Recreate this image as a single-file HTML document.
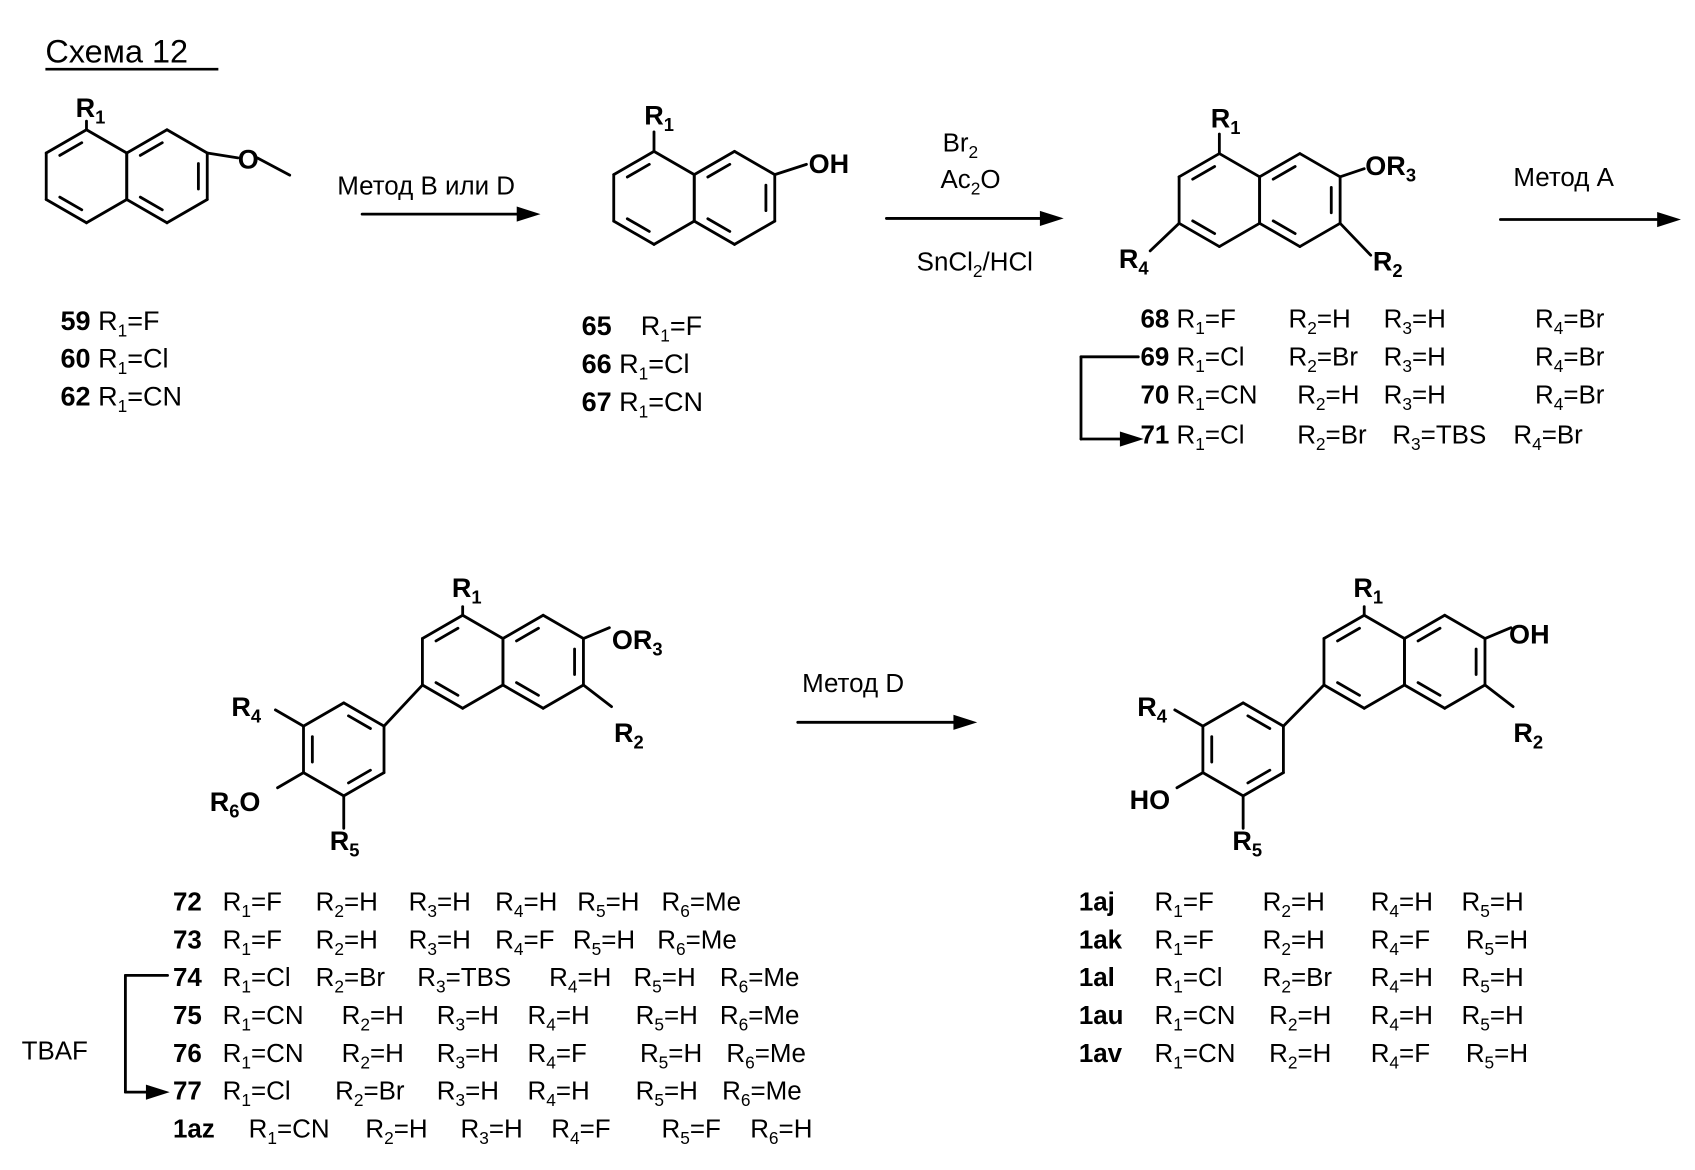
<!DOCTYPE html>
<html><head><meta charset="utf-8"><style>
html,body{margin:0;padding:0;background:#fff;}
svg{display:block;}
text{font-family:"Liberation Sans",Arial,sans-serif;fill:#000;}
.b{font-weight:bold;font-size:25px;}
.n{font-size:24px;}
</style></head><body>
<div style="position:relative;width:1695px;height:1170px">
<svg id="s" style="position:absolute;left:0;top:0" width="1695" height="1170" viewBox="0 0 1568 1082" preserveAspectRatio="none" xmlns="http://www.w3.org/2000/svg">
<g id="g" stroke="#000" stroke-width="2.6" fill="none" stroke-linecap="round"></g>
<text x="42" y="58" class="n" style="font-size:30px">Схема 12</text>
<line x1="42" y1="64" x2="202" y2="64" stroke="#000" stroke-width="2.5"/>

<text x="70" y="108" class="b">R<tspan font-size="17" dy="6">1</tspan></text>
<text x="220" y="156" class="b">O</text>
<text x="596" y="115" class="b">R<tspan font-size="17" dy="6">1</tspan></text>
<text x="748" y="160" class="b">OH</text>
<text x="1120" y="118" class="b">R<tspan font-size="17" dy="6">1</tspan></text>
<text x="1263" y="162" class="b">OR<tspan font-size="17" dy="6">3</tspan></text>
<text x="1035" y="248" class="b">R<tspan font-size="17" dy="6">4</tspan></text>
<text x="1270" y="250" class="b">R<tspan font-size="17" dy="6">2</tspan></text>

<text x="418" y="552" class="b">R<tspan font-size="17" dy="6">1</tspan></text>
<text x="566" y="600" class="b">OR<tspan font-size="17" dy="6">3</tspan></text>
<text x="568" y="686" class="b">R<tspan font-size="17" dy="6">2</tspan></text>
<text x="214" y="662" class="b">R<tspan font-size="17" dy="6">4</tspan></text>
<text x="194" y="750" class="b">R<tspan font-size="17" dy="6">6</tspan><tspan dy="-6">O</tspan></text>
<text x="305" y="786" class="b">R<tspan font-size="17" dy="6">5</tspan></text>

<text x="1252" y="552" class="b">R<tspan font-size="17" dy="6">1</tspan></text>
<text x="1396" y="595" class="b">OH</text>
<text x="1400" y="686" class="b">R<tspan font-size="17" dy="6">2</tspan></text>
<text x="1052" y="662" class="b">R<tspan font-size="17" dy="6">4</tspan></text>
<text x="1045" y="748" class="b">HO</text>
<text x="1140" y="786" class="b">R<tspan font-size="17" dy="6">5</tspan></text>

<text x="312" y="180" class="n">Метод B или D</text>
<text x="872" y="140" class="n">Br<tspan font-size="16" dy="6">2</tspan></text>
<text x="870" y="174" class="n">Ac<tspan font-size="16" dy="6">2</tspan><tspan dy="-6">O</tspan></text>
<text x="848" y="250" class="n">SnCl<tspan font-size="16" dy="6">2</tspan><tspan dy="-6">/HCl</tspan></text>
<text x="1400" y="172" class="n">Метод A</text>
<text x="742" y="640" class="n">Метод D</text>
<text x="20" y="980" class="n">TBAF</text>

<text x="56" y="305" class="b">59 <tspan font-weight="normal">R<tspan font-size="16" dy="6">1</tspan><tspan dy="-6">=F</tspan></tspan></text>
<text x="56" y="340" class="b">60 <tspan font-weight="normal">R<tspan font-size="16" dy="6">1</tspan><tspan dy="-6">=Cl</tspan></tspan></text>
<text x="56" y="375" class="b">62 <tspan font-weight="normal">R<tspan font-size="16" dy="6">1</tspan><tspan dy="-6">=CN</tspan></tspan></text>
<text x="538" y="310" class="b">65 <tspan font-weight="normal" dx="20">R<tspan font-size="16" dy="6">1</tspan><tspan dy="-6">=F</tspan></tspan></text>
<text x="538" y="345" class="b">66 <tspan font-weight="normal">R<tspan font-size="16" dy="6">1</tspan><tspan dy="-6">=Cl</tspan></tspan></text>
<text x="538" y="380" class="b">67 <tspan font-weight="normal">R<tspan font-size="16" dy="6">1</tspan><tspan dy="-6">=CN</tspan></tspan></text>
<g font-size="24">
<text x="1055" y="303"><tspan font-weight="bold">68</tspan> R<tspan font-size="16" dy="6">1</tspan><tspan dy="-6">=F</tspan><tspan x="1192">R</tspan><tspan font-size="16" dy="6">2</tspan><tspan dy="-6">=H</tspan><tspan x="1280">R</tspan><tspan font-size="16" dy="6">3</tspan><tspan dy="-6">=H</tspan><tspan x="1420">R</tspan><tspan font-size="16" dy="6">4</tspan><tspan dy="-6">=Br</tspan></text>
<text x="1055" y="338"><tspan font-weight="bold">69</tspan> R<tspan font-size="16" dy="6">1</tspan><tspan dy="-6">=Cl</tspan><tspan x="1192">R</tspan><tspan font-size="16" dy="6">2</tspan><tspan dy="-6">=Br</tspan><tspan x="1280">R</tspan><tspan font-size="16" dy="6">3</tspan><tspan dy="-6">=H</tspan><tspan x="1420">R</tspan><tspan font-size="16" dy="6">4</tspan><tspan dy="-6">=Br</tspan></text>
<text x="1055" y="373"><tspan font-weight="bold">70</tspan> R<tspan font-size="16" dy="6">1</tspan><tspan dy="-6">=CN</tspan><tspan x="1200">R</tspan><tspan font-size="16" dy="6">2</tspan><tspan dy="-6">=H</tspan><tspan x="1280">R</tspan><tspan font-size="16" dy="6">3</tspan><tspan dy="-6">=H</tspan><tspan x="1420">R</tspan><tspan font-size="16" dy="6">4</tspan><tspan dy="-6">=Br</tspan></text>
<text x="1055" y="410"><tspan font-weight="bold">71</tspan> R<tspan font-size="16" dy="6">1</tspan><tspan dy="-6">=Cl</tspan><tspan x="1200">R</tspan><tspan font-size="16" dy="6">2</tspan><tspan dy="-6">=Br</tspan><tspan x="1288">R</tspan><tspan font-size="16" dy="6">3</tspan><tspan dy="-6">=TBS</tspan><tspan x="1400">R</tspan><tspan font-size="16" dy="6">4</tspan><tspan dy="-6">=Br</tspan></text>

<text y="842"><tspan x="160" font-weight="bold">72</tspan><tspan x="206">R</tspan><tspan font-size="16" dy="6">1</tspan><tspan dy="-6">=F</tspan><tspan x="292">R</tspan><tspan font-size="16" dy="6">2</tspan><tspan dy="-6">=H</tspan><tspan x="378">R</tspan><tspan font-size="16" dy="6">3</tspan><tspan dy="-6">=H</tspan><tspan x="458">R</tspan><tspan font-size="16" dy="6">4</tspan><tspan dy="-6">=H</tspan><tspan x="534">R</tspan><tspan font-size="16" dy="6">5</tspan><tspan dy="-6">=H</tspan><tspan x="612">R</tspan><tspan font-size="16" dy="6">6</tspan><tspan dy="-6">=Me</tspan></text>
<text y="877"><tspan x="160" font-weight="bold">73</tspan><tspan x="206">R</tspan><tspan font-size="16" dy="6">1</tspan><tspan dy="-6">=F</tspan><tspan x="292">R</tspan><tspan font-size="16" dy="6">2</tspan><tspan dy="-6">=H</tspan><tspan x="378">R</tspan><tspan font-size="16" dy="6">3</tspan><tspan dy="-6">=H</tspan><tspan x="458">R</tspan><tspan font-size="16" dy="6">4</tspan><tspan dy="-6">=F</tspan><tspan x="530">R</tspan><tspan font-size="16" dy="6">5</tspan><tspan dy="-6">=H</tspan><tspan x="608">R</tspan><tspan font-size="16" dy="6">6</tspan><tspan dy="-6">=Me</tspan></text>
<text y="912"><tspan x="160" font-weight="bold">74</tspan><tspan x="206">R</tspan><tspan font-size="16" dy="6">1</tspan><tspan dy="-6">=Cl</tspan><tspan x="292">R</tspan><tspan font-size="16" dy="6">2</tspan><tspan dy="-6">=Br</tspan><tspan x="386">R</tspan><tspan font-size="16" dy="6">3</tspan><tspan dy="-6">=TBS</tspan><tspan x="508">R</tspan><tspan font-size="16" dy="6">4</tspan><tspan dy="-6">=H</tspan><tspan x="586">R</tspan><tspan font-size="16" dy="6">5</tspan><tspan dy="-6">=H</tspan><tspan x="666">R</tspan><tspan font-size="16" dy="6">6</tspan><tspan dy="-6">=Me</tspan></text>
<text y="947"><tspan x="160" font-weight="bold">75</tspan><tspan x="206">R</tspan><tspan font-size="16" dy="6">1</tspan><tspan dy="-6">=CN</tspan><tspan x="316">R</tspan><tspan font-size="16" dy="6">2</tspan><tspan dy="-6">=H</tspan><tspan x="404">R</tspan><tspan font-size="16" dy="6">3</tspan><tspan dy="-6">=H</tspan><tspan x="488">R</tspan><tspan font-size="16" dy="6">4</tspan><tspan dy="-6">=H</tspan><tspan x="588">R</tspan><tspan font-size="16" dy="6">5</tspan><tspan dy="-6">=H</tspan><tspan x="666">R</tspan><tspan font-size="16" dy="6">6</tspan><tspan dy="-6">=Me</tspan></text>
<text y="982"><tspan x="160" font-weight="bold">76</tspan><tspan x="206">R</tspan><tspan font-size="16" dy="6">1</tspan><tspan dy="-6">=CN</tspan><tspan x="316">R</tspan><tspan font-size="16" dy="6">2</tspan><tspan dy="-6">=H</tspan><tspan x="404">R</tspan><tspan font-size="16" dy="6">3</tspan><tspan dy="-6">=H</tspan><tspan x="488">R</tspan><tspan font-size="16" dy="6">4</tspan><tspan dy="-6">=F</tspan><tspan x="592">R</tspan><tspan font-size="16" dy="6">5</tspan><tspan dy="-6">=H</tspan><tspan x="672">R</tspan><tspan font-size="16" dy="6">6</tspan><tspan dy="-6">=Me</tspan></text>
<text y="1017"><tspan x="160" font-weight="bold">77</tspan><tspan x="206">R</tspan><tspan font-size="16" dy="6">1</tspan><tspan dy="-6">=Cl</tspan><tspan x="310">R</tspan><tspan font-size="16" dy="6">2</tspan><tspan dy="-6">=Br</tspan><tspan x="404">R</tspan><tspan font-size="16" dy="6">3</tspan><tspan dy="-6">=H</tspan><tspan x="488">R</tspan><tspan font-size="16" dy="6">4</tspan><tspan dy="-6">=H</tspan><tspan x="588">R</tspan><tspan font-size="16" dy="6">5</tspan><tspan dy="-6">=H</tspan><tspan x="668">R</tspan><tspan font-size="16" dy="6">6</tspan><tspan dy="-6">=Me</tspan></text>
<text y="1052"><tspan x="160" font-weight="bold">1az</tspan><tspan x="230">R</tspan><tspan font-size="16" dy="6">1</tspan><tspan dy="-6">=CN</tspan><tspan x="338">R</tspan><tspan font-size="16" dy="6">2</tspan><tspan dy="-6">=H</tspan><tspan x="426">R</tspan><tspan font-size="16" dy="6">3</tspan><tspan dy="-6">=H</tspan><tspan x="510">R</tspan><tspan font-size="16" dy="6">4</tspan><tspan dy="-6">=F</tspan><tspan x="612">R</tspan><tspan font-size="16" dy="6">5</tspan><tspan dy="-6">=F</tspan><tspan x="694">R</tspan><tspan font-size="16" dy="6">6</tspan><tspan dy="-6">=H</tspan></text>

<text y="842"><tspan x="998" font-weight="bold">1aj</tspan><tspan x="1068">R</tspan><tspan font-size="16" dy="6">1</tspan><tspan dy="-6">=F</tspan><tspan x="1168">R</tspan><tspan font-size="16" dy="6">2</tspan><tspan dy="-6">=H</tspan><tspan x="1268">R</tspan><tspan font-size="16" dy="6">4</tspan><tspan dy="-6">=H</tspan><tspan x="1352">R</tspan><tspan font-size="16" dy="6">5</tspan><tspan dy="-6">=H</tspan></text>
<text y="877"><tspan x="998" font-weight="bold">1ak</tspan><tspan x="1068">R</tspan><tspan font-size="16" dy="6">1</tspan><tspan dy="-6">=F</tspan><tspan x="1168">R</tspan><tspan font-size="16" dy="6">2</tspan><tspan dy="-6">=H</tspan><tspan x="1268">R</tspan><tspan font-size="16" dy="6">4</tspan><tspan dy="-6">=F</tspan><tspan x="1356">R</tspan><tspan font-size="16" dy="6">5</tspan><tspan dy="-6">=H</tspan></text>
<text y="912"><tspan x="998" font-weight="bold">1al</tspan><tspan x="1068">R</tspan><tspan font-size="16" dy="6">1</tspan><tspan dy="-6">=Cl</tspan><tspan x="1168">R</tspan><tspan font-size="16" dy="6">2</tspan><tspan dy="-6">=Br</tspan><tspan x="1268">R</tspan><tspan font-size="16" dy="6">4</tspan><tspan dy="-6">=H</tspan><tspan x="1352">R</tspan><tspan font-size="16" dy="6">5</tspan><tspan dy="-6">=H</tspan></text>
<text y="947"><tspan x="998" font-weight="bold">1au</tspan><tspan x="1068">R</tspan><tspan font-size="16" dy="6">1</tspan><tspan dy="-6">=CN</tspan><tspan x="1174">R</tspan><tspan font-size="16" dy="6">2</tspan><tspan dy="-6">=H</tspan><tspan x="1268">R</tspan><tspan font-size="16" dy="6">4</tspan><tspan dy="-6">=H</tspan><tspan x="1352">R</tspan><tspan font-size="16" dy="6">5</tspan><tspan dy="-6">=H</tspan></text>
<text y="982"><tspan x="998" font-weight="bold">1av</tspan><tspan x="1068">R</tspan><tspan font-size="16" dy="6">1</tspan><tspan dy="-6">=CN</tspan><tspan x="1174">R</tspan><tspan font-size="16" dy="6">2</tspan><tspan dy="-6">=H</tspan><tspan x="1268">R</tspan><tspan font-size="16" dy="6">4</tspan><tspan dy="-6">=F</tspan><tspan x="1356">R</tspan><tspan font-size="16" dy="6">5</tspan><tspan dy="-6">=H</tspan></text>
</g>
<g id="arr" stroke="none" fill="#000"></g>
</svg>
</div>
<script>
var g=document.getElementById('g'),NS='http://www.w3.org/2000/svg';
function ln(a,b,c,d){var l=document.createElementNS(NS,'line');l.setAttribute('x1',a);l.setAttribute('y1',b);l.setAttribute('x2',c);l.setAttribute('y2',d);g.appendChild(l);}
function hex(cx,cy,r,dbl){var p=[];for(var i=0;i<6;i++){var a=(-90+60*i)*Math.PI/180;p.push([cx+r*Math.cos(a),cy+r*Math.sin(a)]);}
for(var i=0;i<6;i++){var A=p[i],B=p[(i+1)%6];ln(A[0],A[1],B[0],B[1]);if(dbl.indexOf(i)>=0){var k=0.78,s=0.15;var ax=cx+(A[0]-cx)*k,ay=cy+(A[1]-cy)*k,bx=cx+(B[0]-cx)*k,by=cy+(B[1]-cy)*k;var dx=bx-ax,dy=by-ay;ln(ax+dx*s,ay+dy*s,bx-dx*s,by-dy*s);}}return p;}
var r=43,w=r*0.866,a,b;
a=hex(80,163,r,[5,3]);b=hex(80+2*w,163,r,[5,1,3]);
ln(a[0][0],a[0][1],a[0][0],112);
ln(b[1][0],b[1][1],220,146);ln(238,146,268,162);
a=hex(605,183,r,[5,3]);b=hex(605+2*w,183,r,[5,1,3]);
ln(a[0][0],a[0][1],a[0][0],122);ln(b[1][0],b[1][1],746,152);
a=hex(1128,185,r,[5,3]);b=hex(1128+2*w,185,r,[5,1,3]);
ln(a[0][0],a[0][1],a[0][0],124);ln(b[1][0],b[1][1],1262,156);
ln(a[4][0],a[4][1],1064,232);ln(b[2][0],b[2][1],1268,236);
function big(cx,cy,px,py){a=hex(cx,cy,r,[5,3]);b=hex(cx+2*w,cy,r,[5,1,3]);
ln(a[0][0],a[0][1],a[0][0],cy-r-8);ln(b[1][0],b[1][1],b[1][0]+24,b[1][1]-10);ln(b[2][0],b[2][1],b[2][0]+26,b[2][1]+20);
var c=hex(px,py,r,[0,2,4]);ln(c[1][0],c[1][1],a[4][0],a[4][1]);
ln(c[5][0],c[5][1],c[5][0]-26,c[5][1]-15);ln(c[4][0],c[4][1],c[4][0]-24,c[4][1]+14);ln(c[3][0],c[3][1],c[3][0],c[3][1]+30);}
big(428,612,318,693);
big(1262,612,1150,693);
ln(1053,330,1000,330);ln(1000,330,1000,406);ln(1000,406,1040,406);
ln(155,902,116,902);ln(116,902,116,1010);ln(116,1010,140,1010);
var ar=document.getElementById('arr');
function arrow(x1,y,x2){ln(x1,y,x2-14,y);var p=document.createElementNS(NS,'polygon');p.setAttribute('points',(x2)+','+y+' '+(x2-22)+','+(y-7)+' '+(x2-22)+','+(y+7));ar.appendChild(p);}
arrow(335,198,500);arrow(820,202,984);arrow(1388,203,1555);arrow(738,668,904);
arrow(1040,406,1058);arrow(140,1010,157);
</script>
</body></html>
